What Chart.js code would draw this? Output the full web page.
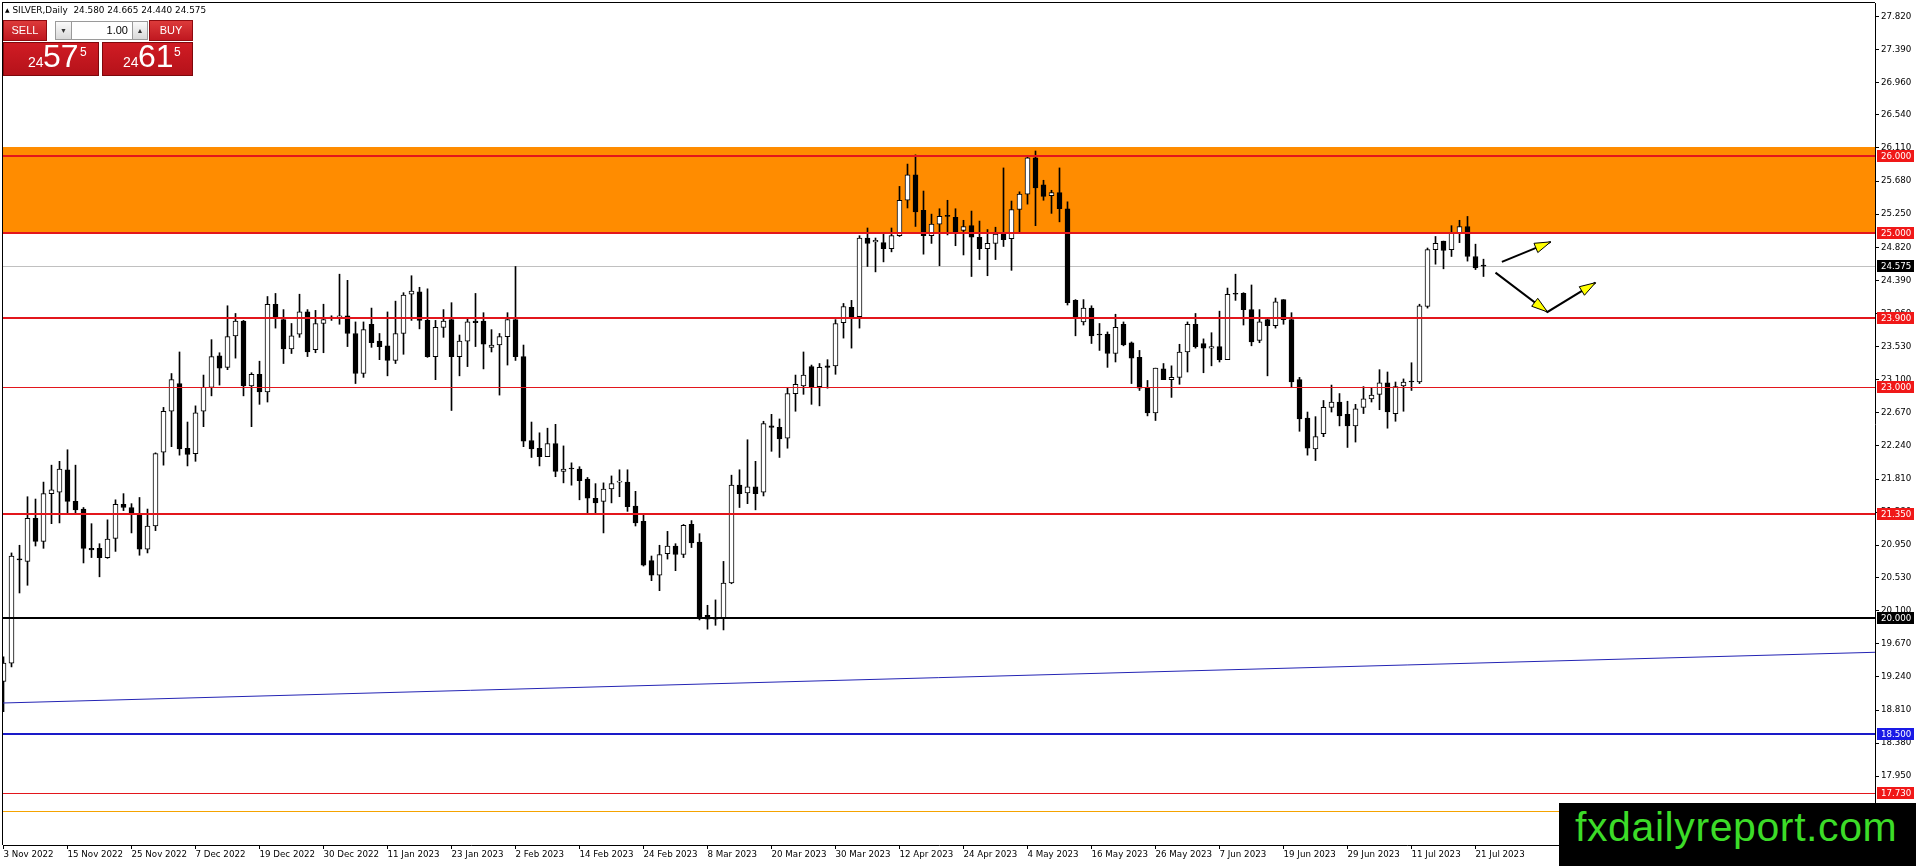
<!DOCTYPE html>
<html>
<head>
<meta charset="utf-8">
<title>SILVER,Daily</title>
<script src="https://cdn.jsdelivr.net/npm/chart.js@4.4.1/dist/chart.umd.min.js"></script>
<style>
    html, body { margin: 0; padding: 0; background: #fff; }
    #wrap { position: relative; width: 1916px; height: 866px; overflow: hidden; font-family: "Liberation Sans", Arial, sans-serif; }
    #realtimeChart { position: absolute; left: 0; top: 0; }
    #hdr { position: absolute; left: 5px; top: 5px; font: 8.9px "DejaVu Sans", sans-serif; color: #000; white-space: pre; }
    #hdr .tri { font-size: 6px; position: relative; top: -1px; }
    .box { position: absolute; box-sizing: border-box; }
    .btn { background: linear-gradient(#dc3a3a, #c01820); border: 1px solid #8e0b10; color: #fff; font-size: 11px; text-align: center; line-height: 19px; }
    .spin { background: linear-gradient(#fafafa, #d9d9d9); border: 1px solid #9a9a9a; color: #333; font-size: 7px; text-align: center; line-height: 17px; }
    .lot { background: #fff; border-top: 1px solid #9a9a9a; border-bottom: 1px solid #9a9a9a; font-size: 11px; text-align: right; padding-right: 4px; line-height: 17px; color: #000; }
    .px { background: linear-gradient(#d01c24, #b5121a); border: 1px solid #7e080c; color: #fff; }
    .px span { position: absolute; line-height: 1; }
    #logo { position: absolute; left: 1559px; top: 803px; width: 357px; height: 63px; background: #000; }
    #logo span { position: absolute; left: 16px; top: 4px; font: 41px "Liberation Sans", Arial, sans-serif; letter-spacing: 0.6px; line-height: 41px; color: #3cdc28; white-space: nowrap; }
</style>
</head>
<body>
<div id="wrap">
    <canvas id="realtimeChart" width="1916" height="866"></canvas>
    <div id="hdr"><span class="tri">&#9650;</span> SILVER,Daily  24.580 24.665 24.440 24.575</div>
    <div class="box btn" style="left:3px;top:20px;width:44px;height:21px;">SELL</div>
    <div class="box spin" style="left:55px;top:21px;width:17px;height:19px;">&#9660;</div>
    <div class="box lot" style="left:72px;top:21px;width:60px;height:19px;">1.00</div>
    <div class="box spin" style="left:132px;top:21px;width:16px;height:19px;">&#9650;</div>
    <div class="box btn" style="left:149px;top:20px;width:44px;height:21px;">BUY</div>
    <div class="box px" style="left:3px;top:42px;width:96px;height:34px;">
        <span style="left:24px;top:12px;font-size:14px;">24</span>
        <span style="left:39px;top:-3px;font-size:32px;">57</span>
        <span style="left:76px;top:3px;font-size:12px;">5</span>
    </div>
    <div class="box px" style="left:102px;top:42px;width:91px;height:34px;">
        <span style="left:20px;top:12px;font-size:14px;">24</span>
        <span style="left:35px;top:-3px;font-size:32px;">61</span>
        <span style="left:71px;top:3px;font-size:12px;">5</span>
    </div>
    <div id="logo"><span>fxdailyreport.com</span></div>
</div>
<script>
// one label every 8 daily bars, first bar = 3 Nov 2022
var dateLabels = ['3 Nov 2022', '15 Nov 2022', '25 Nov 2022', '7 Dec 2022', '19 Dec 2022', '30 Dec 2022',
    '11 Jan 2023', '23 Jan 2023', '2 Feb 2023', '14 Feb 2023', '24 Feb 2023', '8 Mar 2023',
    '20 Mar 2023', '30 Mar 2023', '12 Apr 2023', '24 Apr 2023', '4 May 2023', '16 May 2023',
    '26 May 2023', '7 Jun 2023', '19 Jun 2023', '29 Jun 2023', '11 Jul 2023', '21 Jul 2023'];

var priceTicks = [27.82, 27.39, 26.96, 26.54, 26.11, 25.68, 25.25, 24.82, 24.39, 23.96, 23.53, 23.10,
    22.67, 22.24, 21.81, 21.38, 20.95, 20.53, 20.10, 19.67, 19.24, 18.81, 18.38, 17.95, 17.52];

var opens = [19.18, 19.42, 20.77, 20.74, 21.30, 21.00, 21.62, 21.64, 21.93, 21.52,
    21.42, 20.91, 20.91, 20.79, 21.04, 21.48, 21.44, 21.34, 20.90, 21.20,
    22.16, 22.69, 23.05, 22.21, 22.14, 22.69, 23.00, 23.41, 23.26, 23.67,
    23.86, 23.02, 23.17, 22.94, 24.08, 23.88, 23.50, 23.69, 23.98, 23.49,
    23.83, 23.90, 23.91, 23.93, 23.70, 23.18, 23.82, 23.60, 23.54, 23.35,
    23.70, 24.21, 24.24, 23.87, 23.40, 23.78, 23.88, 23.40, 23.60, 23.86,
    23.86, 23.52, 23.55, 23.66, 23.88, 23.40, 22.31, 22.21, 22.10, 22.27,
    21.91, 21.95, 21.94, 21.81, 21.56, 21.52, 21.68, 21.77, 21.77, 21.46,
    21.26, 20.75, 20.56, 20.84, 20.94, 20.83, 21.22, 20.99, 20.04, 20.00,
    20.00, 20.46, 21.73, 21.63, 21.71, 21.64, 22.50, 22.48, 22.34, 22.92,
    23.02, 23.27, 23.01, 23.28, 23.28, 23.84, 24.04, 23.92, 24.94, 24.89,
    24.88, 24.80, 24.97, 25.43, 25.76, 25.30, 24.97, 25.12, 25.23, 25.21,
    25.04, 25.10, 24.95, 24.80, 24.87, 25.01, 24.93, 25.31, 25.51, 25.98,
    25.63, 25.49, 25.53, 25.32, 24.13, 23.85, 24.03, 23.69, 23.69, 23.44,
    23.82, 23.58, 23.39, 22.99, 22.67, 23.24, 23.10, 23.13, 23.46, 23.82,
    23.57, 23.51, 23.53, 23.36, 24.22, 24.22, 24.01, 23.61, 23.88, 23.80,
    24.14, 23.88, 23.10, 22.60, 22.20, 22.40, 22.74, 22.81, 22.65, 22.50,
    22.74, 22.85, 22.91, 23.06, 22.66, 23.02, 23.08, 23.07, 24.05, 24.79,
    24.90, 24.79, 25.00, 25.09, 24.70, 24.58];

var highs = [19.50, 20.85, 20.95, 21.58, 21.55, 21.77, 21.99, 22.04, 22.19, 21.99,
    21.44, 21.23, 20.97, 21.28, 21.54, 21.62, 21.49, 21.57, 21.42, 22.15,
    22.74, 23.18, 23.46, 22.55, 22.76, 23.16, 23.62, 23.45, 24.06, 23.96,
    23.87, 23.19, 23.34, 24.18, 24.22, 24.01, 23.83, 24.21, 24.01, 24.00,
    24.08, 23.93, 24.47, 24.39, 23.85, 23.85, 24.03, 23.70, 23.98, 24.12,
    24.23, 24.45, 24.30, 24.28, 23.87, 24.01, 24.10, 23.68, 23.90, 24.22,
    23.97, 23.75, 23.70, 23.97, 24.57, 23.55, 22.55, 22.41, 22.47, 22.52,
    22.24, 22.02, 21.97, 21.83, 21.75, 21.76, 21.85, 21.93, 21.93, 21.65,
    21.34, 20.81, 20.95, 21.13, 20.97, 21.22, 21.27, 21.10, 20.17, 20.24,
    20.74, 21.86, 21.93, 22.32, 22.04, 22.56, 22.65, 22.59, 23.00, 23.16,
    23.46, 23.29, 23.31, 23.36, 23.88, 24.09, 24.13, 24.97, 25.07, 24.94,
    25.00, 25.07, 25.61, 25.90, 26.02, 25.55, 25.25, 25.32, 25.43, 25.32,
    25.17, 25.29, 25.16, 25.05, 25.08, 25.85, 25.42, 25.54, 26.00, 26.07,
    25.69, 25.56, 25.85, 25.41, 24.14, 24.14, 24.06, 23.83, 23.72, 23.95,
    23.85, 23.59, 23.48, 23.09, 23.25, 23.31, 23.28, 23.56, 23.85, 23.96,
    23.63, 23.71, 23.99, 24.29, 24.47, 24.23, 24.33, 24.01, 23.90, 24.16,
    24.14, 23.97, 23.13, 22.68, 22.62, 22.83, 23.03, 22.92, 22.82, 22.78,
    23.01, 23.00, 23.23, 23.20, 23.07, 23.11, 23.32, 24.08, 24.81, 24.96,
    24.90, 25.10, 25.17, 25.22, 24.86, 24.665];

var lows = [18.79, 19.37, 20.33, 20.43, 20.94, 20.91, 21.23, 21.24, 21.36, 21.36,
    20.72, 20.79, 20.54, 20.78, 20.87, 21.40, 21.11, 20.82, 20.85, 21.14,
    21.99, 22.23, 22.12, 21.98, 22.04, 22.49, 22.89, 23.03, 23.23, 23.38,
    22.89, 22.49, 22.78, 22.81, 23.77, 23.31, 23.44, 23.65, 23.40, 23.45,
    23.45, 23.87, 23.82, 23.53, 23.05, 23.13, 23.52, 23.36, 23.15, 23.31,
    23.43, 23.87, 23.76, 23.39, 23.10, 23.65, 22.70, 23.15, 23.27, 23.53,
    23.24, 23.46, 22.90, 23.29, 23.35, 22.23, 22.09, 21.98, 22.10, 21.84,
    21.76, 21.73, 21.54, 21.36, 21.37, 21.11, 21.50, 21.58, 21.39, 21.20,
    20.68, 20.49, 20.36, 20.77, 20.62, 20.79, 20.92, 19.98, 19.86, 19.91,
    19.85, 20.45, 21.44, 21.49, 21.41, 21.59, 22.17, 22.09, 22.21, 22.69,
    22.91, 22.78, 22.76, 22.99, 23.17, 23.64, 23.51, 23.77, 24.57, 24.50,
    24.63, 24.76, 24.96, 25.33, 25.09, 24.73, 24.87, 24.58, 24.98, 24.84,
    24.72, 24.44, 24.66, 24.45, 24.66, 24.83, 24.52, 25.02, 25.38, 25.10,
    25.43, 25.26, 25.15, 24.07, 23.67, 23.81, 23.57, 23.48, 23.26, 23.33,
    23.54, 23.05, 22.96, 22.63, 22.57, 23.10, 22.87, 23.04, 23.20, 23.51,
    23.19, 23.28, 23.33, 23.36, 24.13, 23.81, 23.54, 23.58, 23.15, 23.77,
    23.82, 23.00, 22.43, 22.12, 22.05, 22.36, 22.68, 22.50, 22.22, 22.29,
    22.66, 22.81, 22.71, 22.47, 22.56, 22.69, 22.96, 23.05, 24.03, 24.60,
    24.54, 24.70, 24.88, 24.64, 24.53, 24.44];

var closes = [19.42, 20.81, 20.76, 21.30, 21.00, 21.62, 21.67, 21.94, 21.52, 21.41,
    20.91, 20.89, 20.79, 21.03, 21.48, 21.44, 21.36, 20.90, 21.20, 22.14,
    22.69, 23.10, 22.20, 22.13, 22.67, 23.00, 23.40, 23.25, 23.66, 23.86,
    23.02, 23.17, 22.94, 24.08, 23.90, 23.50, 23.67, 23.98, 23.46, 23.83,
    23.88, 23.90, 23.93, 23.70, 23.18, 23.75, 23.58, 23.53, 23.35, 23.70,
    24.20, 24.25, 23.87, 23.40, 23.78, 23.86, 23.40, 23.60, 23.85, 23.84,
    23.56, 23.55, 23.66, 23.88, 23.40, 22.30, 22.20, 22.10, 22.27, 21.91,
    21.94, 21.94, 21.79, 21.56, 21.50, 21.68, 21.75, 21.78, 21.45, 21.24,
    20.69, 20.56, 20.83, 20.94, 20.83, 21.21, 20.98, 20.00, 19.99, 19.99,
    20.46, 21.73, 21.62, 21.71, 21.62, 22.53, 22.48, 22.33, 22.92, 23.04,
    23.16, 23.01, 23.26, 23.26, 23.83, 24.05, 23.92, 24.94, 24.87, 24.91,
    24.80, 24.97, 25.43, 25.76, 25.28, 24.97, 25.12, 25.22, 25.22, 25.01,
    25.09, 24.95, 24.80, 24.87, 24.99, 24.92, 25.31, 25.51, 25.98, 25.59,
    25.48, 25.53, 25.32, 24.10, 23.90, 24.03, 23.67, 23.68, 23.44, 23.78,
    23.55, 23.38, 22.99, 22.67, 23.25, 23.10, 23.13, 23.46, 23.82, 23.53,
    23.51, 23.53, 23.36, 24.21, 24.21, 24.01, 23.59, 23.85, 23.80, 24.11,
    23.88, 23.07, 22.59, 22.21, 22.36, 22.74, 22.81, 22.63, 22.50, 22.72,
    22.85, 22.90, 23.06, 22.68, 23.01, 23.07, 23.07, 24.06, 24.79, 24.87,
    24.78, 25.00, 25.09, 24.70, 24.55, 24.575];

// drawn objects on the chart (bar index, price)
var levelPrices = [26.0, 25.0, 23.9, 23.0, 21.35, 20.0, 18.5, 17.73];
var bidPrice = 24.575;
var zoneTop = 26.126, zoneBottom = 25.0;
var orangeLevel = 17.50;
var trendIdx = [0, 234], trendPrice = [18.90, 19.56];
var arrowUp = [[187.3, 24.63], [193.4, 24.89]];
var arrowDip = [[186.5, 24.49], [193.0, 23.98], [199.0, 24.36]];

var levelStyles = [
    { color: '#e3161c', width: 2, box: '#f01818' },
    { color: '#e3161c', width: 2, box: '#f01818' },
    { color: '#e3161c', width: 2, box: '#f01818' },
    { color: '#e3161c', width: 1, box: '#f01818' },
    { color: '#e3161c', width: 2, box: '#f01818' },
    { color: '#000000', width: 2, box: '#000000' },
    { color: '#1a1ac8', width: 2, box: '#1a1ae6' },
    { color: '#e3161c', width: 1, box: '#f01818' }
];

var wicks = [], bodies = [], bodyFill = [];
for (var i = 0; i < opens.length; i++) {
    wicks.push({ x: i, y: [lows[i], highs[i]] });
    bodies.push({ x: i, y: [Math.min(opens[i], closes[i]), Math.max(opens[i], closes[i])] });
    bodyFill.push(closes[i] >= opens[i] ? '#ffffff' : '#000000');
}

var axisFont = { family: '"DejaVu Sans", sans-serif', size: 8.7 };

function hline(ctx, area, y, width, color) {
    var yy = Math.round(y);
    ctx.fillStyle = color;
    if (width === 1) ctx.fillRect(area.left, yy, area.right - area.left, 1);
    else ctx.fillRect(area.left, yy - 1, area.right - area.left, width);
}

function arrowHead(ctx, x0, y0, x1, y1) {
    var a = Math.atan2(y1 - y0, x1 - x0);
    var len = 16, half = 5;
    var bx = x1 - len * Math.cos(a), by = y1 - len * Math.sin(a);
    ctx.beginPath();
    ctx.moveTo(x1, y1);
    ctx.lineTo(bx + half * Math.sin(a), by - half * Math.cos(a));
    ctx.lineTo(bx - half * Math.sin(a), by + half * Math.cos(a));
    ctx.closePath();
    ctx.fillStyle = '#ffff00';
    ctx.fill();
    ctx.lineWidth = 1;
    ctx.strokeStyle = '#000';
    ctx.stroke();
}

function polyArrow(chart, pts, headEvery) {
    var ctx = chart.ctx, xs = chart.scales.x, ys = chart.scales.y;
    var px = pts.map(function (p) { return [xs.getPixelForValue(p[0]), ys.getPixelForValue(p[1])]; });
    ctx.save();
    ctx.strokeStyle = '#000';
    ctx.lineWidth = 2;
    ctx.beginPath();
    ctx.moveTo(px[0][0], px[0][1]);
    for (var k = 1; k < px.length; k++) ctx.lineTo(px[k][0], px[k][1]);
    ctx.stroke();
    for (var k = 1; k < px.length; k++) {
        if (headEvery || k === px.length - 1) arrowHead(ctx, px[k - 1][0], px[k - 1][1], px[k][0], px[k][1]);
    }
    ctx.restore();
}

var objectsPlugin = {
    id: 'mtObjects',
    beforeDatasetsDraw: function (chart) {
        var ctx = chart.ctx, a = chart.chartArea, ys = chart.scales.y;
        ctx.save();
        var t = ys.getPixelForValue(zoneTop), b = ys.getPixelForValue(zoneBottom);
        ctx.fillStyle = '#ff8c00';
        ctx.fillRect(a.left, Math.round(t), a.right - a.left, Math.round(b) - Math.round(t));
        hline(ctx, a, ys.getPixelForValue(bidPrice), 1, '#c0c0c0');
        ctx.restore();
    },
    afterDatasetsDraw: function (chart) {
        var ctx = chart.ctx, a = chart.chartArea, xs = chart.scales.x, ys = chart.scales.y;
        ctx.save();
        ctx.beginPath();
        ctx.rect(a.left, a.top, a.right - a.left, a.bottom - a.top);
        ctx.clip();
        levelPrices.forEach(function (p, k) {
            hline(ctx, a, ys.getPixelForValue(p), levelStyles[k].width, levelStyles[k].color);
        });
        hline(ctx, a, ys.getPixelForValue(orangeLevel), 1, '#f5a300');
        // trend line
        ctx.strokeStyle = '#2424b4';
        ctx.lineWidth = 1;
        ctx.beginPath();
        ctx.moveTo(xs.getPixelForValue(trendIdx[0]) - 4, ys.getPixelForValue(trendPrice[0]));
        ctx.lineTo(xs.getPixelForValue(trendIdx[1]), ys.getPixelForValue(trendPrice[1]));
        ctx.stroke();
        ctx.restore();

        polyArrow(chart, arrowUp, false);
        polyArrow(chart, arrowDip, true);

        // left and top frame
        ctx.save();
        ctx.fillStyle = '#000';
        ctx.fillRect(a.left - 1, a.top - 1, 1, a.bottom - a.top + 1);
        ctx.fillRect(a.left - 1, a.top - 1, a.right - a.left + 1, 1);
        ctx.restore();
    },
    afterDraw: function (chart) {
        var ctx = chart.ctx, a = chart.chartArea, ys = chart.scales.y;
        var boxes = levelPrices.map(function (p, k) { return { p: p, bg: levelStyles[k].box }; });
        boxes.push({ p: bidPrice, bg: '#000000' });
        ctx.save();
        ctx.font = axisFont.size + 'px ' + axisFont.family;
        ctx.textBaseline = 'middle';
        boxes.forEach(function (bx) {
            var y = Math.round(ys.getPixelForValue(bx.p));
            ctx.fillStyle = bx.bg;
            ctx.fillRect(a.right + 2, y - 6, 37, 12);
            ctx.fillStyle = '#fff';
            ctx.fillText(bx.p.toFixed(3), a.right + 6, y + 0.5);
        });
        ctx.restore();
    }
};

var ctx = document.getElementById('realtimeChart');
window.realtimeChartInstance = new Chart(ctx, {
    type: 'bar',
    data: {
        datasets: [
            {
                label: 'body',
                data: bodies,
                backgroundColor: bodyFill,
                borderColor: '#000000',
                borderWidth: 1,
                borderSkipped: false,
                barThickness: 5,
                minBarLength: 1,
                grouped: false,
                order: 0
            },
            {
                label: 'wick',
                data: wicks,
                backgroundColor: '#000000',
                borderWidth: 0,
                barThickness: 1,
                grouped: false,
                order: 1
            }
        ]
    },
    options: {
        responsive: false,
        animation: false,
        devicePixelRatio: 1,
        layout: { padding: { left: 3, top: 3, right: 0, bottom: 0 } },
        plugins: {
            legend: { display: false },
            tooltip: { enabled: false }
        },
        scales: {
            x: {
                type: 'linear',
                offset: false,
                min: -0.0625,
                max: 233.9375,
                grid: { display: true, offset: false, drawOnChartArea: false, drawTicks: true, tickLength: 4, color: '#000' },
                border: { display: true, color: '#000', width: 1 },
                ticks: {
                    autoSkip: false,
                    maxRotation: 0,
                    align: 'start',
                    padding: 1,
                    color: '#000',
                    font: axisFont,
                    callback: function (value) { return dateLabels[Math.round(value / 8)]; }
                },
                afterBuildTicks: function (scale) {
                    scale.ticks = dateLabels.map(function (d, k) { return { value: k * 8 }; });
                },
                afterFit: function (scale) {
                    scale.height = 21;
                    scale.paddingLeft = 0;
                    scale.paddingRight = 0;
                }
            },
            y: {
                type: 'linear',
                position: 'right',
                min: 17.057,
                max: 27.992,
                grid: { display: true, drawOnChartArea: false, drawTicks: true, tickLength: 4, color: '#000' },
                border: { display: true, color: '#000', width: 1 },
                ticks: {
                    autoSkip: false,
                    padding: 2,
                    color: '#000',
                    font: axisFont,
                    callback: function (value) { return Number(value).toFixed(3); }
                },
                afterBuildTicks: function (scale) {
                    scale.ticks = priceTicks.slice().reverse().map(function (v) { return { value: v }; });
                },
                afterFit: function (scale) {
                    scale.width = 41;
                    scale.paddingTop = 0;
                    scale.paddingBottom = 0;
                }
            }
        }
    },
    plugins: [objectsPlugin]
});
</script>
</body>
</html>
